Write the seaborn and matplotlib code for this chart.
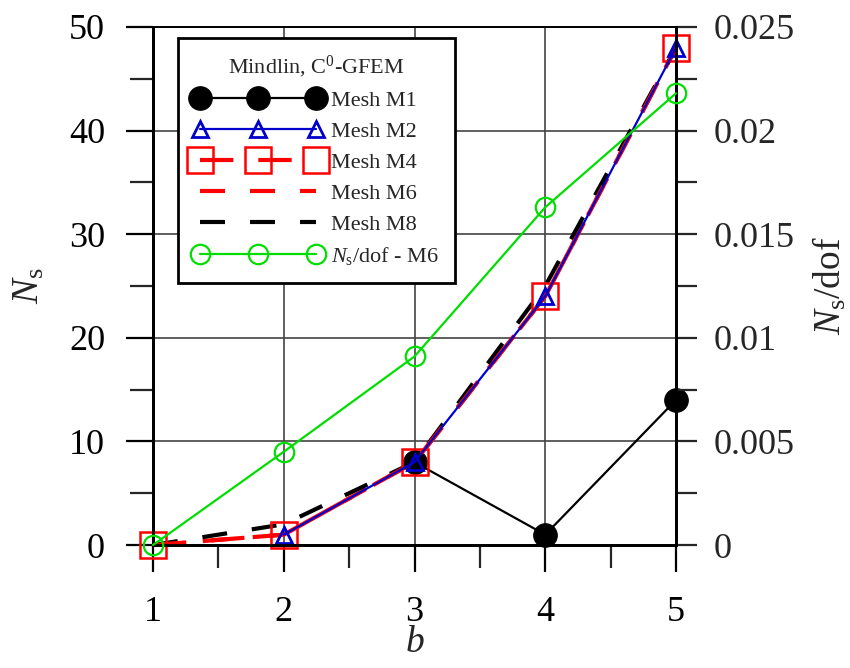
import numpy as np
import pandas as pd
import matplotlib
matplotlib.use("Agg")
import matplotlib.pyplot as plt
import seaborn as sns
from matplotlib.ticker import MultipleLocator, FixedLocator

# ---- data ----
b_m1 = [3, 4, 5]
ns_m1 = [8, 1, 14]
b_m2 = [2, 3, 4, 5]
ns_m2 = [1, 8, 24, 48]
b_m4 = [1, 2, 3, 4, 5]
ns_m4 = [0, 1, 8, 24, 48]
b_m6 = [1, 2, 3, 4, 5]
ns_m6 = [0, 1, 8, 24, 48]
b_m8 = [1, 2, 3, 4, 5]
ns_m8 = [0, 2, 8, 25, 48]
b_dof = [1, 2, 3, 4, 5]
ns_dof_m6 = [0.0, 0.0045, 0.0091, 0.0163, 0.0218]
x_ticks = [1, 2, 3, 4, 5]
y_ticks = [0, 10, 20, 30, 40, 50]
y2_ticks = [0, 0.005, 0.01, 0.015, 0.02, 0.025]
y2_labels = ["0", "0.005", "0.01", "0.015", "0.02", "0.025"]

sns.set_style("white")
plt.rcParams['font.family'] = ['Liberation Serif', 'DejaVu Serif']
plt.rcParams['mathtext.fontset'] = 'custom'
plt.rcParams['mathtext.rm'] = 'Liberation Serif'
plt.rcParams['mathtext.it'] = 'Liberation Serif:italic'
plt.rcParams['mathtext.bf'] = 'Liberation Serif:bold'

fig = plt.figure(figsize=(8.5, 6.68), dpi=100)
ax = fig.add_axes([0.18, 0.1841, 0.6153, 0.7755])

sns.lineplot(x=b_m1, y=ns_m1, ax=ax, color='black', lw=1.6, marker='o',
             markersize=17, markerfacecolor='black', markeredgecolor='black',
             label='Mesh M1', zorder=3, clip_on=False)
sns.lineplot(x=b_m2, y=ns_m2, ax=ax, color='#0000cc', lw=1.6, marker='^',
             markersize=12, markerfacecolor='none', markeredgecolor='#0000cc',
             markeredgewidth=2, label='Mesh M2', zorder=6, clip_on=False)
sns.lineplot(x=b_m4, y=ns_m4, ax=ax, color='red', lw=3, linestyle=(0, (8, 6)),
             marker='s', markersize=19, markerfacecolor='none',
             markeredgecolor='red', markeredgewidth=1.8, label='Mesh M4', zorder=5,
             clip_on=False)
sns.lineplot(x=b_m6, y=ns_m6, ax=ax, color='red', lw=3, linestyle=(0, (6, 6)),
             label='Mesh M6', zorder=4, clip_on=False)
sns.lineplot(x=b_m8, y=ns_m8, ax=ax, color='black', lw=3, linestyle=(0, (6, 6)),
             label='Mesh M8', zorder=4.5, clip_on=False)

ax2 = ax.twinx()
sns.lineplot(x=b_dof, y=ns_dof_m6, ax=ax2, color='#00dd00', lw=1.6, marker='o',
             markersize=14, markerfacecolor='none', markeredgecolor='#00dd00',
             markeredgewidth=1.6, label=r'$N_\mathrm{s}$/dof - M6', zorder=5,
             clip_on=False)

ax.set_xlim(1, 5)
ax.set_ylim(0, 50)
ax2.set_ylim(0, 0.025)

ax.xaxis.set_major_locator(FixedLocator(x_ticks))
ax.xaxis.set_minor_locator(MultipleLocator(0.5))
ax.yaxis.set_major_locator(FixedLocator(y_ticks))
ax.yaxis.set_minor_locator(MultipleLocator(5))
ax2.yaxis.set_major_locator(FixedLocator(y2_ticks))
ax2.set_yticklabels(y2_labels)
ax2.yaxis.set_minor_locator(MultipleLocator(0.0025))

ax.grid(True, which='major', color='#444444', lw=1.2)
ax.set_axisbelow(True)

for a in (ax, ax2):
    for s in ('left', 'bottom', 'right'):
        a.spines[s].set_linewidth(2)
        a.spines[s].set_color('black')
    a.spines['top'].set_linewidth(1.2)
    a.spines['top'].set_color('black')

ax.tick_params(axis='both', which='major', direction='out', length=19.5, width=1.6,
               labelsize=26, colors='black')
ax.tick_params(axis='both', which='minor', direction='out', length=16.5, width=1.6)
ax.tick_params(axis='x', which='major', pad=17)
ax.tick_params(axis='y', which='major', pad=15)
ax.tick_params(axis='x', which='both', bottom=True)
ax.tick_params(axis='y', which='both', left=True)
ax2.tick_params(axis='y', which='major', direction='out', length=15, width=1.6,
                labelsize=26, pad=12, right=True)
ax2.tick_params(axis='y', which='minor', direction='out', length=15, width=1.6, right=True)

ax.set_xlabel(r'$b$', fontsize=27, labelpad=-2)
ax.set_ylabel(r'$N_\mathrm{s}$', fontsize=27, labelpad=16)
ax2.set_ylabel(r'$N_\mathrm{s}$/dof', fontsize=27, labelpad=12)

h1, l1 = ax.get_legend_handles_labels()
h2, l2 = ax2.get_legend_handles_labels()
if ax2.get_legend() is not None:
    ax2.get_legend().remove()
if ax.get_legend() is not None:
    ax.get_legend().remove()
leg = ax2.legend(h1 + h2, l1 + l2, title=r'Mindlin, C$^0$-GFEM', loc='upper left',
                 bbox_to_anchor=(0.048, 0.979), borderaxespad=0, fontsize=16,
                 title_fontsize=16, numpoints=3, handlelength=5.8, labelspacing=0.47,
                 handletextpad=0.4, fancybox=False, framealpha=1, edgecolor='black',
                 borderpad=0.7)
leg.get_frame().set_linewidth(2)
leg.set_zorder(10)

fig.savefig('out.png', dpi=100)
